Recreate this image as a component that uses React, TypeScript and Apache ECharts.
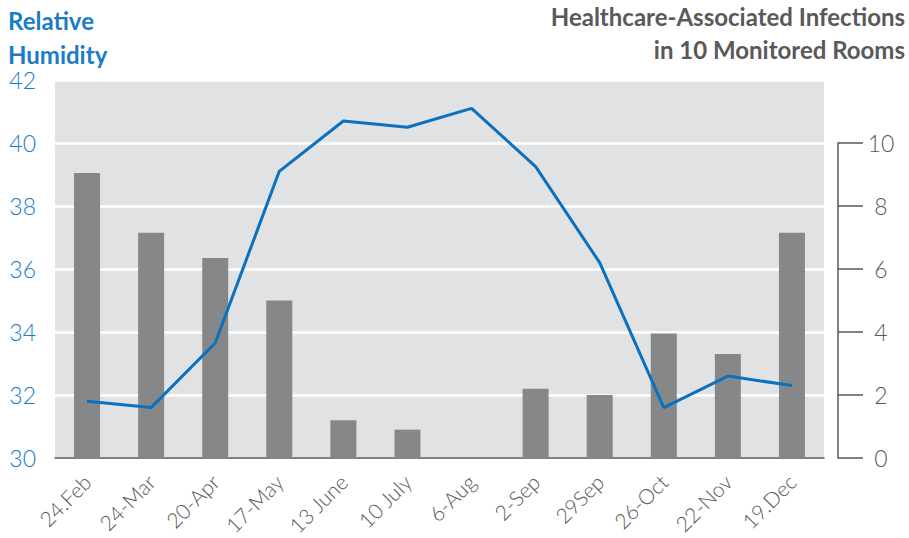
import React, { useEffect, useRef } from "react";
import * as echarts from "echarts";

const categories = ["24.Feb", "24-Mar", "20-Apr", "17-May", "13 June", "10 July", "6-Aug", "2-Sep", "29Sep", "26-Oct", "22-Nov", "19.Dec"];
const humidity = [31.8, 31.6, 33.65, 39.1, 40.7, 40.5, 41.1, 39.25, 36.2, 31.6, 32.6, 32.3];
const infections = [9.05, 7.15, 6.35, 5.0, 1.2, 0.9, 0, 2.2, 2.0, 3.95, 3.3, 7.15];
const leftTitleLines = ["Relative", "Humidity"];
const rightTitleLines = ["Healthcare-Associated Infections", "in 10 Monitored Rooms"];

const FONT = "Lato";
const BLUE = "#0a71c0";
const LABEL_BLUE = "#1b7cc4";
const GRAY = "#595959";

export default function App() {
  const ref = useRef<HTMLDivElement>(null);
  useEffect(() => {
    if (!ref.current) return;
    const chart = echarts.init(ref.current, null, { renderer: "svg" });
    const gridLeft = 55;
    const gridRight = 85;
    const gridTop = 80;
    const gridBottom = 80;
    const plotH = 538 - gridTop - gridBottom;
    const titleStyle = { fontFamily: FONT, fontWeight: "bold", fontSize: 24 };
    chart.setOption({
      animation: false,
      textStyle: { fontFamily: FONT },
      graphic: [
        ...leftTitleLines.map((t, i) => ({
          type: "text",
          left: 8,
          top: 8 + i * 34,
          style: { ...titleStyle, text: t, fill: LABEL_BLUE },
        })),
        ...rightTitleLines.map((t, i) => ({
          type: "text",
          right: 4,
          top: 4 + i * 33,
          style: { ...titleStyle, text: t, fill: GRAY },
        })),
      ],
      grid: [
        { left: gridLeft, right: gridRight, top: gridTop, bottom: gridBottom, show: true, backgroundColor: "#e1e2e4", borderWidth: 0, containLabel: false, outerBoundsMode: "none" },
        { left: gridLeft, right: gridRight, top: gridTop + plotH * 2 / 12, bottom: gridBottom, show: false, containLabel: false, outerBoundsMode: "none" },
      ],
      xAxis: [
        {
          type: "category",
          gridIndex: 0,
          data: categories,
          axisLine: { lineStyle: { color: GRAY, width: 1.5 } },
          axisTick: { show: false },
          axisLabel: { rotate: 45, margin: 20, fontSize: 21, color: GRAY, fontFamily: FONT, fontWeight: 300, interval: 0 },
        },
        { type: "category", gridIndex: 1, data: categories, show: false },
      ],
      yAxis: [
        {
          type: "value",
          gridIndex: 0,
          min: 30,
          max: 42,
          interval: 2,
          axisLine: { show: false },
          axisTick: { show: false },
          axisLabel: { color: LABEL_BLUE, fontSize: 23, margin: 19, fontFamily: FONT, fontWeight: 300 },
          splitLine: { lineStyle: { color: "#ffffff", width: 2.5 } },
        },
        {
          type: "value",
          gridIndex: 1,
          position: "right",
          offset: 14,
          min: 0,
          max: 10,
          interval: 2,
          axisLine: { show: true, lineStyle: { color: GRAY, width: 1.5 } },
          axisTick: { show: true, length: 25, lineStyle: { color: GRAY, width: 1.5 } },
          axisLabel: { color: GRAY, fontSize: 23, margin: 43, align: "center", fontFamily: FONT, fontWeight: 300 },
          splitLine: { show: false },
        },
      ],
      series: [
        {
          type: "bar",
          xAxisIndex: 1,
          yAxisIndex: 1,
          data: infections,
          barWidth: 26,
          itemStyle: { color: "#868789" },
          z: 2,
        },
        {
          type: "line",
          xAxisIndex: 0,
          yAxisIndex: 0,
          data: humidity,
          symbol: "none",
          lineStyle: { color: BLUE, width: 3 },
          z: 5,
        },
      ],
    });
    return () => chart.dispose();
  }, []);
  return <div ref={ref} style={{ position: "absolute", left: 0, top: 0, width: 909, height: 538 }} />;
}
